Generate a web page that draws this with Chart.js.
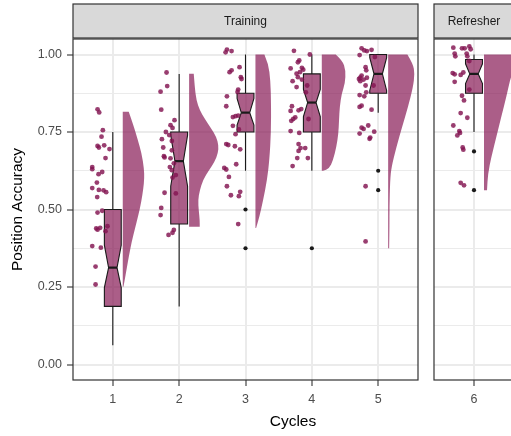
<!DOCTYPE html>
<html>
<head>
<meta charset="utf-8">
<script src="https://cdn.jsdelivr.net/npm/chart.js@4.4.1/dist/chart.umd.min.js"></script>
<style>
  html, body { margin: 0; padding: 0; width: 511px; height: 436px; overflow: hidden; background: #fff; }
  canvas { position: absolute; top: 0; }
  #chartTraining { left: 0; }
  #chartRefresher { left: 380px; }
  #xTitle { position: absolute; left: 193px; width: 200px; top: 412px; line-height: 18px; text-align: center;
            font: 15.5px "Liberation Sans", Arial, sans-serif; color: #000; }
</style>
</head>
<body>
<canvas id="chartTraining" width="422" height="436"></canvas>
<canvas id="chartRefresher" width="200" height="436"></canvas>
<div id="xTitle">Cycles</div>
<script>
// raincloud: puntos + boxplot con muesca + medio violín por ciclo

// Datos
const cycles = [1, 2, 3, 4, 5, 6];
const xTickLabels = ['1', '2', '3', '4', '5', '6'];
const panelNames = ['Training', 'Refresher'];
const panelCycles = [[1, 2, 3, 4, 5], [6]];
const yTickValues = [0, 0.25, 0.5, 0.75, 1];
const yTickLabels = ['0.00', '0.25', '0.50', '0.75', '1.00'];
const yMinorValues = [0.125, 0.375, 0.625, 0.875];

// boxplot por ciclo
const whiskerLow  = [0.0625, 0.1875, 0.625, 0.625, 0.8125, 0.75];
const quartile1   = [0.1875, 0.453, 0.75, 0.75, 0.875, 0.875];
const medians     = [0.3125, 0.656, 0.8125, 0.845, 0.9375, 0.9375];
const quartile3   = [0.5, 0.75, 0.875, 0.9375, 1.0, 0.984];
const whiskerHigh = [0.75, 0.9375, 1.0, 1.0, 1.0, 1.0];
const notchLow    = [0.248, 0.575, 0.772, 0.80, 0.884, 0.906];
const notchHigh   = [0.385, 0.74, 0.858, 0.887, 0.99, 0.97];
const outlierCycle = [3, 3, 4, 5, 5, 6, 6];
const outlierValue = [0.5, 0.375, 0.375, 0.625, 0.5625, 0.6875, 0.5625];

// puntos con jitter (desplazamiento x, precisión)
const jitterX = [
  [-0.23,-0.205,-0.15,-0.17,-0.23,-0.21,-0.13,-0.05,-0.11,-0.31,-0.31,-0.16,-0.215,-0.24,-0.31,-0.21,-0.14,-0.10,-0.235,-0.23,-0.16,-0.25,-0.23,-0.19,-0.08,-0.11,-0.31,-0.18,-0.26,-0.26],
  [-0.19,-0.18,-0.28,-0.27,-0.07,-0.13,-0.10,-0.20,-0.15,-0.26,-0.11,-0.24,-0.11,-0.23,-0.22,-0.13,-0.08,-0.11,-0.05,-0.10,-0.14,-0.22,-0.05,-0.27,-0.28,-0.08,-0.10,-0.16],
  [-0.28,-0.30,-0.21,-0.24,-0.21,-0.09,-0.07,-0.06,-0.11,-0.12,-0.28,-0.29,-0.19,-0.15,-0.11,-0.19,-0.10,-0.15,-0.29,-0.26,-0.16,-0.08,-0.14,-0.32,-0.29,-0.25,-0.28,-0.22,-0.08,-0.10,-0.11],
  [-0.27,-0.03,-0.19,-0.21,-0.32,-0.15,-0.13,-0.18,-0.23,-0.21,-0.15,-0.29,-0.07,-0.23,-0.09,-0.30,-0.16,-0.20,-0.32,-0.05,-0.25,-0.28,-0.31,-0.32,-0.19,-0.20,-0.17,-0.10,-0.20,-0.22,-0.06,-0.29],
  [-0.25,-0.21,-0.17,-0.10,-0.28,-0.05,-0.19,-0.18,-0.29,-0.27,-0.25,-0.22,-0.17,-0.27,-0.19,-0.07,-0.18,-0.28,-0.21,-0.25,-0.28,-0.10,-0.15,-0.25,-0.22,-0.28,-0.06,-0.12,-0.13,-0.19,-0.19],
  [-0.31,-0.18,-0.14,-0.07,-0.05,-0.29,-0.28,-0.11,-0.10,-0.07,-0.32,-0.29,-0.20,-0.16,-0.29,-0.07,-0.18,-0.15,-0.20,-0.10,-0.31,-0.22,-0.21,-0.25,-0.17,-0.16,-0.20,-0.15]
];
const accuracy = [
  [0.823,0.813,0.756,0.735,0.705,0.700,0.707,0.695,0.666,0.637,0.630,0.621,0.614,0.587,0.569,0.563,0.562,0.556,0.540,0.490,0.496,0.439,0.435,0.441,0.446,0.430,0.382,0.377,0.316,0.258],
  [0.942,0.898,0.880,0.822,0.788,0.772,0.763,0.750,0.740,0.727,0.721,0.700,0.691,0.672,0.668,0.665,0.649,0.627,0.611,0.603,0.637,0.554,0.552,0.505,0.482,0.434,0.425,0.418],
  [1.016,1.007,1.011,0.943,0.949,0.959,0.927,0.921,0.887,0.879,0.865,0.833,0.798,0.801,0.803,0.770,0.758,0.743,0.711,0.708,0.704,0.694,0.646,0.634,0.629,0.605,0.575,0.546,0.557,0.543,0.453],
  [1.012,1.000,0.981,0.975,0.955,0.957,0.951,0.943,0.938,0.927,0.919,0.914,0.900,0.895,0.878,0.833,0.824,0.820,0.818,0.792,0.797,0.792,0.786,0.753,0.747,0.711,0.698,0.698,0.689,0.666,0.666,0.640],
  [1.020,1.013,1.011,1.015,0.998,0.992,0.959,0.949,0.921,0.925,0.932,0.919,0.925,0.914,0.900,0.900,0.878,0.869,0.865,0.835,0.831,0.822,0.771,0.764,0.760,0.745,0.751,0.732,0.728,0.575,0.397],
  [1.022,1.020,1.020,1.026,1.017,1.003,0.994,1.003,0.994,0.979,0.940,0.936,0.934,0.942,0.912,0.887,0.867,0.852,0.811,0.796,0.771,0.753,0.747,0.739,0.700,0.693,0.586,0.578]
];

// medio violín: niveles de precisión y ancho de densidad
const violinLevels = [
  [0.815,0.772,0.729,0.681,0.632,0.600,0.568,0.525,0.482,0.439,0.396,0.353,0.310,0.267,0.251],
  [0.938,0.895,0.852,0.820,0.793,0.761,0.734,0.707,0.681,0.654,0.627,0.595,0.562,0.530,0.498,0.466,0.444],
  [1.0,0.97,0.917,0.85,0.75,0.66,0.595,0.53,0.477,0.44],
  [1.0,0.981,0.949,0.906,0.874,0.831,0.788,0.745,0.702,0.659,0.632,0.625],
  [1.0,0.97,0.938,0.895,0.831,0.766,0.702,0.637,0.595,0.509,0.444,0.375],
  [1.0,0.95,0.917,0.863,0.80,0.734,0.67,0.616,0.5625]
];
const violinWidths = [
  [0.09,0.16,0.22,0.285,0.32,0.325,0.31,0.28,0.235,0.185,0.135,0.095,0.06,0.025,0.01],
  [0.07,0.085,0.11,0.16,0.235,0.335,0.41,0.445,0.435,0.385,0.30,0.21,0.16,0.135,0.145,0.16,0.16],
  [0.135,0.195,0.225,0.235,0.235,0.21,0.175,0.115,0.06,0.01],
  [0.21,0.31,0.36,0.35,0.30,0.27,0.26,0.25,0.22,0.17,0.11,0.02],
  [0.29,0.375,0.40,0.375,0.30,0.21,0.125,0.05,0.03,0.02,0.02,0.015],
  [0.45,0.44,0.39,0.335,0.26,0.185,0.11,0.06,0.045]
];

// Estilo
const FONT = '"Liberation Sans", Arial, sans-serif';
const FILL = 'rgba(135, 25, 85, 0.70)';
const POINT = 'rgba(130, 20, 80, 0.82)';
const INK = '#1A1A1A';
const GRID = '#EBEBEB';
const BOX_HALF = 0.127;
const VIOLIN_GAP = 0.15;

function drawViolin(ctx, x, y, i) {
  const c = cycles[i];
  const lv = violinLevels[i], wd = violinWidths[i];
  const x0 = x.getPixelForValue(c + VIOLIN_GAP);
  const pts = lv.map((v, k) => [x.getPixelForValue(c + VIOLIN_GAP + wd[k]), y.getPixelForValue(v)]);
  ctx.beginPath();
  ctx.moveTo(x0, pts[0][1]);
  ctx.lineTo(pts[0][0], pts[0][1]);
  for (let k = 1; k < pts.length - 1; k++) {
    const mx = (pts[k][0] + pts[k + 1][0]) / 2;
    const my = (pts[k][1] + pts[k + 1][1]) / 2;
    ctx.quadraticCurveTo(pts[k][0], pts[k][1], mx, my);
  }
  const last = pts[pts.length - 1];
  ctx.lineTo(last[0], last[1]);
  ctx.lineTo(x0, last[1]);
  ctx.closePath();
  ctx.fillStyle = FILL;
  ctx.fill();
}

function drawBox(ctx, x, y, i) {
  const c = cycles[i];
  const xc = x.getPixelForValue(c);
  const xl = x.getPixelForValue(c - BOX_HALF);
  const xr = x.getPixelForValue(c + BOX_HALF);
  const ind = (xr - xl) / 4;
  const py = v => y.getPixelForValue(v);

  ctx.strokeStyle = INK;
  ctx.lineWidth = 1.1;
  ctx.beginPath();
  ctx.moveTo(xc, py(quartile3[i])); ctx.lineTo(xc, py(whiskerHigh[i]));
  ctx.moveTo(xc, py(quartile1[i])); ctx.lineTo(xc, py(whiskerLow[i]));
  ctx.stroke();

  ctx.beginPath();
  ctx.moveTo(xl, py(quartile3[i]));
  ctx.lineTo(xl, py(notchHigh[i]));
  ctx.lineTo(xl + ind, py(medians[i]));
  ctx.lineTo(xl, py(notchLow[i]));
  ctx.lineTo(xl, py(quartile1[i]));
  ctx.lineTo(xr, py(quartile1[i]));
  ctx.lineTo(xr, py(notchLow[i]));
  ctx.lineTo(xr - ind, py(medians[i]));
  ctx.lineTo(xr, py(notchHigh[i]));
  ctx.lineTo(xr, py(quartile3[i]));
  ctx.closePath();
  ctx.fillStyle = FILL;
  ctx.fill();
  ctx.stroke();

  ctx.lineWidth = 2.2;
  ctx.beginPath();
  ctx.moveTo(xl + ind, py(medians[i]));
  ctx.lineTo(xr - ind, py(medians[i]));
  ctx.stroke();
}

// violines y cajas bajo los puntos, marco y tira del panel encima
const panelDecor = {
  id: 'panelDecor',
  beforeDatasetsDraw(chart, args, opts) {
    const {ctx, chartArea: a, scales: {x, y}} = chart;
    ctx.save();
    ctx.beginPath();
    ctx.rect(a.left, a.top, a.right - a.left, a.bottom - a.top);
    ctx.clip();
    opts.cycleIdx.forEach(i => drawViolin(ctx, x, y, i));
    opts.cycleIdx.forEach(i => drawBox(ctx, x, y, i));
    ctx.restore();
  },
  afterDraw(chart, args, opts) {
    const {ctx, chartArea: a} = chart;
    ctx.save();
    ctx.strokeStyle = '#333333';
    ctx.lineWidth = 1.2;
    ctx.strokeRect(a.left, a.top, a.right - a.left, a.bottom - a.top);
    ctx.fillStyle = '#D9D9D9';
    ctx.fillRect(a.left, 4, a.right - a.left, a.top - 5);
    ctx.strokeRect(a.left, 4, a.right - a.left, a.top - 5);
    ctx.fillStyle = INK;
    ctx.font = '12px ' + FONT;
    ctx.textAlign = 'center';
    ctx.textBaseline = 'middle';
    ctx.fillText(opts.strip, (a.left + a.right) / 2, 21.5);
    ctx.restore();
  }
};

function render(canvasId, panel) {
  const cyc = panelCycles[panel];
  const idx = cyc.map(c => cycles.indexOf(c));
  const isLeft = panel === 0;

  const pointData = [];
  idx.forEach(i => accuracy[i].forEach((v, k) => pointData.push({x: cycles[i] + jitterX[i][k], y: v})));
  const outlierData = [];
  outlierCycle.forEach((c, k) => { if (cyc.includes(c)) outlierData.push({x: c, y: outlierValue[k]}); });

  const yTicksAll = yTickValues.concat(yMinorValues).sort((a, b) => a - b);

  return new Chart(document.getElementById(canvasId), {
    type: 'scatter',
    data: {
      datasets: [
        {
          data: pointData,
          pointRadius: 2.4,
          pointBackgroundColor: POINT,
          pointBorderWidth: 0,
          pointHoverRadius: 2.4
        },
        {
          data: outlierData,
          pointRadius: 2.1,
          pointBackgroundColor: INK,
          pointBorderWidth: 0
        }
      ]
    },
    options: {
      responsive: false,
      animation: false,
      layout: { padding: isLeft ? {top: 39, right: 3, left: 0, bottom: 0} : {top: 39, right: 66, left: 54, bottom: 0} },
      plugins: {
        legend: { display: false },
        tooltip: { enabled: false },
        panelDecor: { strip: panelNames[panel], cycleIdx: idx }
      },
      scales: {
        x: {
          type: 'linear',
          min: cyc[0] - 0.6,
          max: cyc[cyc.length - 1] + 0.6,
          afterBuildTicks: s => { s.ticks = cyc.map(v => ({value: v})); },
          afterFit: s => { s.height = 56; },
          border: { display: false },
          grid: { color: GRID, lineWidth: 2, tickLength: 6, tickColor: '#333333', tickWidth: 1.1 },
          ticks: {
            autoSkip: false,
            maxRotation: 0,
            padding: 6,
            color: '#4D4D4D',
            font: { family: FONT, size: 12.5 },
            callback: v => xTickLabels[cycles.indexOf(v)]
          }
        },
        y: {
          min: -0.05,
          max: 1.05,
          afterBuildTicks: s => { s.ticks = yTicksAll.map(v => ({value: v})); },
          afterFit: s => { s.width = isLeft ? 73 : 0; },
          border: { display: false },
          grid: {
            drawTicks: isLeft,
            tickLength: 6,
            tickWidth: 1.1,
            color: GRID,
            lineWidth: ctx => yTickValues.includes(ctx.tick.value) ? 2 : 1,
            tickColor: ctx => yTickValues.includes(ctx.tick.value) ? '#333333' : 'rgba(0,0,0,0)'
          },
          ticks: {
            display: isLeft,
            autoSkip: false,
            padding: 5,
            color: '#4D4D4D',
            font: { family: FONT, size: 12.5 },
            callback: v => { const k = yTickValues.indexOf(v); return k >= 0 ? yTickLabels[k] : ''; }
          },
          title: {
            display: isLeft,
            text: 'Position Accuracy',
            color: '#000',
            padding: { top: 8, bottom: 0 },
            font: { family: FONT, size: 15.5 }
          }
        }
      }
    },
    plugins: [panelDecor]
  });
}

render('chartTraining', 0);
render('chartRefresher', 1);
</script>
</body>
</html>
